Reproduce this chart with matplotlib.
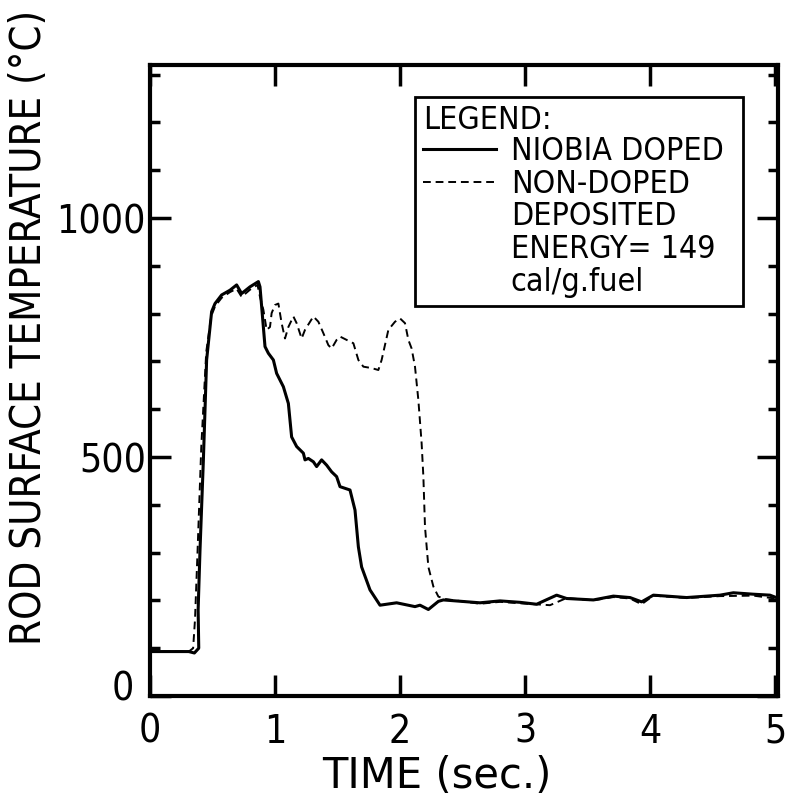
import matplotlib
matplotlib.use("Agg")
import matplotlib.pyplot as plt
from matplotlib.lines import Line2D
from matplotlib.ticker import MultipleLocator

plt.rcParams['font.family'] = ['DejaVu Sans']
plt.rcParams['font.stretch'] = 'condensed'

# ---- data ----
time_doped = [0.0, 0.31, 0.355, 0.39, 0.385, 0.40, 0.427, 0.453, 0.493, 0.52, 0.573, 0.64,
              0.693, 0.733, 0.80, 0.867, 0.88, 0.92, 0.947, 0.987, 1.013, 1.067, 1.107,
              1.133, 1.173, 1.227, 1.24, 1.267, 1.307, 1.333, 1.373, 1.413, 1.453, 1.493,
              1.52, 1.60, 1.64, 1.667, 1.693, 1.76, 1.84, 1.973, 2.12, 2.16, 2.227, 2.307,
              2.347, 2.64, 2.80, 2.96, 3.093, 3.253, 3.333, 3.547, 3.707, 3.84, 3.933,
              4.027, 4.293, 4.56, 4.667, 4.827, 4.96, 5.03]
temp_doped = [93, 93, 90, 100, 180, 305, 494, 703, 804, 821, 839, 849,
              860, 842, 856, 867, 856, 731, 717, 703, 675, 647, 612,
              542, 522, 508, 494, 497, 490, 480, 494, 483, 469, 459,
              438, 431, 389, 312, 270, 222, 190, 195, 187, 190, 181, 198,
              201, 195, 199, 196, 192, 211, 204, 201, 209, 206, 197,
              211, 206, 211, 216, 213, 211, 204]

time_nondoped = [0.0, 0.31, 0.345, 0.36, 0.38, 0.41, 0.45, 0.49, 0.52, 0.573, 0.64, 0.693,
                 0.733, 0.80, 0.86, 0.88, 0.907, 0.933, 0.96, 0.973, 1.0, 1.027, 1.053,
                 1.08, 1.107, 1.147, 1.173, 1.213, 1.24, 1.307, 1.347, 1.387, 1.427,
                 1.453, 1.493, 1.52, 1.573, 1.627, 1.667, 1.707, 1.773, 1.827, 1.853,
                 1.907, 1.96, 2.0, 2.04, 2.067, 2.093, 2.12, 2.147, 2.173, 2.187, 2.2,
                 2.227, 2.267, 2.307, 2.36, 2.64, 2.80, 2.96, 3.2, 3.333, 3.547, 3.707,
                 3.84, 3.933, 4.027, 4.293, 4.56, 4.827, 5.03]
temp_nondoped = [93, 93, 100, 160, 300, 520, 720, 795, 815, 833, 845, 852,
                 835, 850, 860, 835, 808, 766, 772, 801, 818, 821, 780,
                 748, 772, 794, 780, 748, 766, 794, 783, 759, 734,
                 727, 745, 752, 745, 738, 703, 689, 686, 682, 703,
                 766, 783, 790, 780, 745, 727, 689, 619, 529, 459, 354,
                 270, 229, 208, 203, 193, 197, 194, 190, 205, 200, 207,
                 204, 192, 210, 205, 209, 210, 203]

x_ticks = [0, 1, 2, 3, 4, 5]
x_labels = ['0', '1', '2', '3', '4', '5']
y_ticks = [0, 500, 1000]
y_labels = ['', '500', '1000']

label_doped = 'NIOBIA DOPED'
label_nondoped = 'NON-DOPED'
note_lines = ['DEPOSITED', 'ENERGY= 149', 'cal/g.fuel']

# ---- figure ----
fig = plt.figure(figsize=(7.92, 7.98), dpi=100)
ax = fig.add_axes([0.1894, 0.1278, 0.7929, 0.7907])

ax.plot(time_doped, temp_doped, color='black', lw=2.2, solid_joinstyle='round')
ax.plot(time_nondoped, temp_nondoped, color='black', lw=1.4, dashes=(4, 2.5))

ax.set_xlim(0, 5.024)
ax.set_ylim(0, 1320)

for s in ax.spines.values():
    s.set_linewidth(3)

ax.set_xticks(x_ticks)
ax.set_xticklabels(x_labels)
ax.set_yticks(y_ticks)
ax.set_yticklabels(y_labels)
ax.yaxis.set_minor_locator(MultipleLocator(100))

ax.tick_params(axis='both', which='major', direction='in', length=15, width=2.5,
               top=True, right=True, labelsize=28, colors='black')
ax.tick_params(axis='x', which='major', pad=12)
ax.tick_params(axis='y', which='major', pad=3)
ax.tick_params(axis='y', which='minor', direction='in', length=7, width=2.5,
               left=True, right=True)

# lone "0" of the temperature axis, set off from the corner as in the original
ax.text(-0.025, 0.01, '0', transform=ax.transAxes, ha='right', va='center', fontsize=28)

fig.text(0.552, 0.027, 'TIME (sec.)', ha='center', va='center', fontsize=30,
         fontstretch='normal')
fig.text(0.036, 0.59, 'ROD SURFACE TEMPERATURE (\u00b0C)', rotation=90,
         ha='center', va='center', fontsize=30)

handles = [Line2D([], [], color='black', lw=2.2),
           Line2D([], [], color='black', lw=1.4, dashes=(4, 2.5))]
handles += [Line2D([], [], color='none') for _ in note_lines]
labels = [label_doped, label_nondoped] + note_lines
leg = ax.legend(handles, labels, loc='upper left',
                bbox_to_anchor=(0.422, 0.623, 0.522, 0.326), mode='expand',
                borderaxespad=0, fontsize=23, title='LEGEND:', title_fontsize=23,
                alignment='left', frameon=True, fancybox=False, shadow=False,
                labelspacing=0.05, handlelength=2.3, handletextpad=0.45,
                borderpad=0.25)
leg.get_frame().set_edgecolor('black')
leg.get_frame().set_linewidth(2)
leg.get_frame().set_alpha(1)
leg._legend_box.sep = 0

fig.savefig('out.png', dpi=100)
